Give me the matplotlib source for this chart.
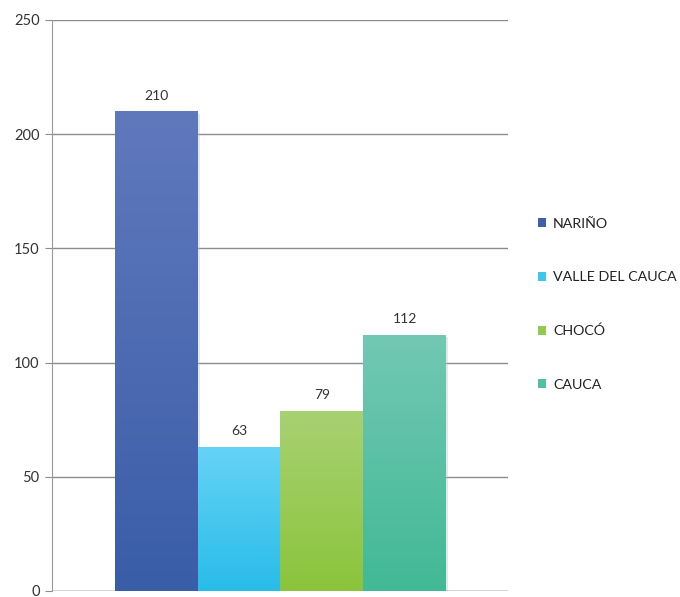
import matplotlib
matplotlib.use("Agg")
import matplotlib.pyplot as plt
import numpy as np
from matplotlib.colors import LinearSegmentedColormap
from matplotlib.patches import Patch

categories = ["NARIÑO", "VALLE DEL CAUCA", "CHOCÓ", "CAUCA"]
values = [210, 63, 79, 112]
top_colors = ["#6079bd", "#66d3f6", "#a8d173", "#72c8b4"]
bottom_colors = ["#3a5da8", "#28bce8", "#8bc43b", "#42b995"]
legend_colors = ["#3f5fab", "#3ec6ef", "#94c94f", "#52bfa2"]

plt.rcParams['font.family'] = ['Lato', 'DejaVu Sans']

fig = plt.figure(figsize=(6.8, 5.97), dpi=100)
ax = fig.add_axes([52/680, 6/597, 456/680, 571/597])

x = np.arange(len(categories))
bars = ax.bar(x, values, width=1.0, color="none", edgecolor="none", zorder=3)
ymax = 250
for b, tc, bc in zip(bars, top_colors, bottom_colors):
    cmap = LinearSegmentedColormap.from_list("g", [bc, tc])
    x0, w, h = b.get_x(), b.get_width(), b.get_height()
    grad = np.linspace(0, 1, 256).reshape(-1, 1)
    im = ax.imshow(grad, cmap=cmap, aspect="auto", origin="lower",
                   extent=(x0, x0 + w, 0, h), zorder=3, interpolation="bicubic")
    im.set_clip_path(b)
    ax.bar(x0 + w/2 + 0.03, h, width=w, bottom=-1.0, color="#bbbbbb", alpha=0.35, zorder=2.5, edgecolor="none")

for xi, v in zip(x, values):
    ax.annotate(str(v), (xi, v), xytext=(0, 7), textcoords="offset points",
                ha="center", va="bottom", fontsize=10, color="#333333")

ax.set_xlim(-1.26, 4.25)
ax.set_ylim(0, ymax)
ax.set_yticks(np.arange(0, 251, 50))
ax.yaxis.grid(True, color="#8c8c8c", linewidth=1.0, zorder=0)
ax.set_axisbelow(True)
ax.set_xticks([])
for s in ["top", "right", "bottom"]:
    ax.spines[s].set_visible(False)
ax.spines["left"].set_color("#999999")
ax.tick_params(axis="y", length=5, color="#8c8c8c", labelsize=10.5, labelcolor="#333333", pad=4)
ax.axhline(0, color="#8c8c8c", linewidth=1.0, zorder=1)

handles = [Patch(facecolor=c, edgecolor="none", label=l) for c, l in zip(legend_colors, categories)]
fig.legend(handles=handles, loc="upper left", bbox_to_anchor=(525/680, 1 - 205/597),
           frameon=False, fontsize=10.3, handlelength=0.6, handleheight=0.6,
           handletextpad=0.45, labelspacing=2.9, labelcolor="#222222")

fig.savefig("out.png", dpi=100, facecolor="white")
